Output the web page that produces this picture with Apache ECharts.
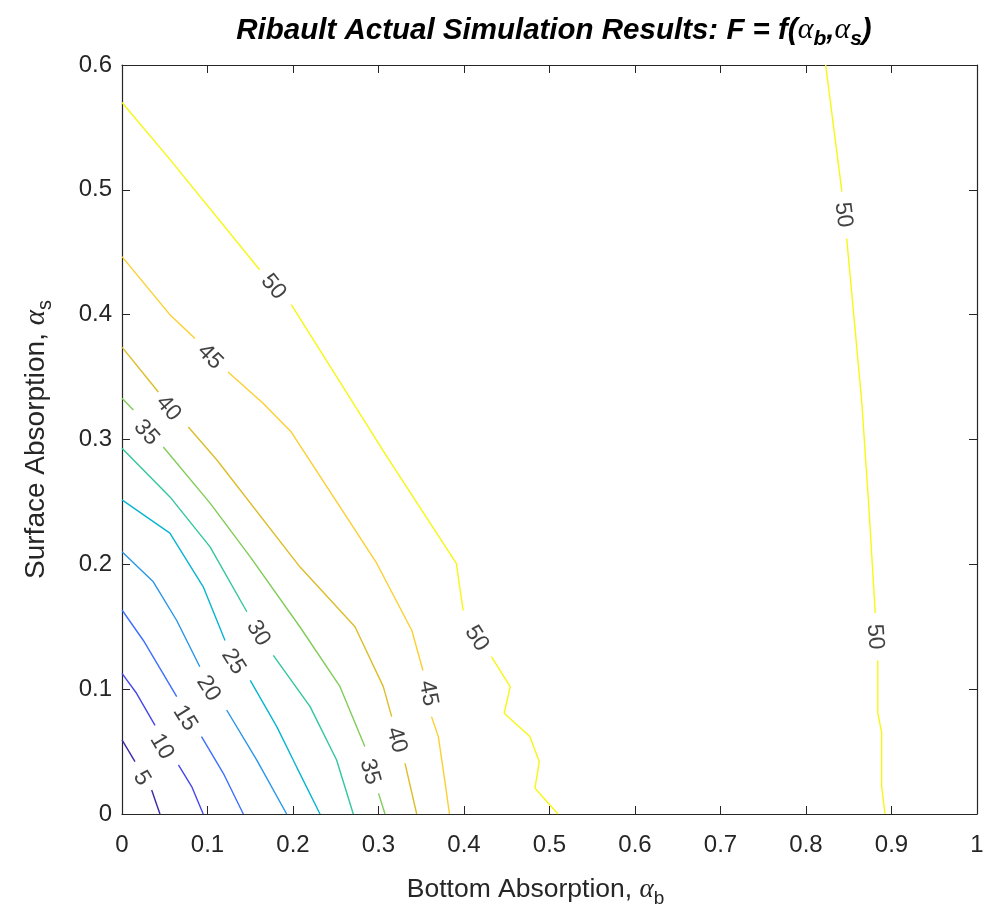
<!DOCTYPE html>
<html>
<head>
<meta charset="utf-8">
<script src="https://cdn.jsdelivr.net/npm/echarts@6/dist/echarts.min.js"></script>
<style>
html,body{margin:0;padding:0;background:#fff;}
#main{width:992px;height:917px;}
</style>
</head>
<body>
<div id="main"></div>
<script>
// ---- data (null marks a gap where a contour label sits) ----
const levels = [5, 10, 15, 20, 25, 30, 35, 40, 45, 50, 50];
const level5 = [[0,0.0593],[0.0152,0.042],null,[0.0347,0.0192],[0.0444,0]];
const level10 = [[0,0.1127],[0.017,0.0967],[0.0386,0.071],null,[0.066,0.0393],[0.0815,0.022],[0.095,0]];
const level15 = [[0,0.1634],[0.025,0.139],[0.064,0.094],null,[0.093,0.062],[0.1185,0.0326],[0.1419,0]];
const level20 = [[0,0.21],[0.0366,0.186],[0.064,0.155],[0.091,0.118],null,[0.1224,0.0833],[0.1575,0.0433],[0.1926,0]];
const level25 = [[0,0.2516],[0.056,0.225],[0.095,0.182],[0.1205,0.139],null,[0.15,0.107],[0.181,0.07],[0.204,0.038],[0.2316,0]];
const level30 = [[0,0.2929],[0.0561,0.254],[0.103,0.214],[0.146,0.162],null,[0.177,0.127],[0.22,0.086],[0.251,0.0433],[0.2705,0]];
const level35 = [[0,0.333],[0.0133,0.3236],null,[0.0483,0.294],[0.103,0.249],[0.15,0.206],[0.208,0.150],[0.255,0.102],[0.284,0.054],null,[0.300,0.0165],[0.3076,0]];
const level40 = [[0,0.374],[0.0425,0.338],null,[0.0776,0.310],[0.111,0.2836],[0.208,0.198],[0.2725,0.150],[0.3056,0.102],[0.3154,0.078],null,[0.331,0.0405],[0.3447,0]];
const level45 = [[0,0.4465],[0.056,0.40],[0.0854,0.381],null,[0.124,0.354],[0.165,0.329],[0.198,0.306],[0.298,0.2007],[0.339,0.147],[0.352,0.115],null,[0.362,0.078],[0.370,0.062],[0.378,0.0245],[0.383,0]];
const level50a = [[0,0.570],[0.0565,0.524],[0.161,0.436],null,[0.198,0.408],[0.31,0.286],[0.391,0.2007],[0.399,0.163],null,[0.432,0.126],[0.454,0.102],[0.447,0.0807],[0.477,0.062],[0.488,0.042],[0.483,0.0206],[0.510,0]];
const level50b = [[0.823,0.6],[0.842,0.4985],null,[0.8476,0.461],[0.865,0.332],[0.873,0.2515],[0.881,0.161],null,[0.884,0.123],[0.884,0.081],[0.8885,0.065],[0.8885,0.022],[0.8924,0]];
const contourLines = [level5, level10, level15, level20, level25, level30, level35, level40, level45, level50a, level50b];

// contour label anchors [x, y, level] and their text angles
const labelPoints = [
  [0.023,0.0286,5],[0.0464,0.054,10],[0.0737,0.0767,15],[0.101,0.1006,20],[0.1302,0.122,25],
  [0.1594,0.1448,30],[0.0285,0.3055,35],[0.29,0.0339,35],[0.0542,0.325,40],[0.3213,0.0593,40],
  [0.1029,0.3663,45],[0.3583,0.0967,45],[0.177,0.4223,50],[0.4149,0.1406,50],[0.8437,0.48,50],[0.8807,0.142,50]
];
const labelAngles = [-59,-60,-58,-58,-58,-59,-48,-74,-49,-74,-46,-79,-51,-58,-83,-86];

const xTickLabels = ['0','0.1','0.2','0.3','0.4','0.5','0.6','0.7','0.8','0.9','1'];
const yTickLabels = ['0','0.1','0.2','0.3','0.4','0.5','0.6'];

// ---- styles ----
const colors = ['#3e26a8','#4747eb','#3e6fff','#2796eb','#08b5d0','#31c69f','#80cc59','#dcbd29','#fccf30','#f7f714','#f7f714'];
const axisColor = '#262626';
const baseFont = 'Liberation Sans, Arial, Helvetica, sans-serif';
const serifFont = 'Liberation Serif, Times New Roman, serif';

function splitSegments(arr){
  const segs=[]; let cur=[];
  arr.forEach(p=>{ if(p===null){ if(cur.length) segs.push(cur); cur=[]; } else cur.push(p); });
  if(cur.length) segs.push(cur);
  return segs;
}

const series = [];
contourLines.forEach((line, i) => {
  splitSegments(line).forEach(seg => {
    series.push({
      type:'line', data:seg, showSymbol:false, symbol:'none', silent:true,
      lineStyle:{color:colors[i], width:1.4}, z:2, animation:false
    });
  });
});
series.push({
  type:'scatter', symbolSize:0, silent:true, animation:false, z:3,
  data: labelPoints.map((p,i)=>({
    value:[p[0],p[1]],
    label:{show:true, position:'inside', formatter:String(p[2]), rotate:labelAngles[i],
      fontSize:23, color:'#111', fontFamily:baseFont}
  }))
});

const tickStyle = {inside:true, length:8, lineStyle:{color:axisColor, width:1}};
const lineStyle = {show:true, onZero:false, lineStyle:{color:axisColor, width:1.2}};

const option = {
  backgroundColor:'#ffffff',
  animation:false,
  title:{
    text:'Ribault Actual Simulation Results: F = f({a|α}{sub|b},{a|α}{sub|s})',
    left:549, top:6, textAlign:'center',
    textStyle:{
      fontSize:29.5, fontWeight:'bold', fontStyle:'italic', color:'#000', fontFamily:baseFont,
      rich:{
        a:{fontSize:30, fontStyle:'italic', fontWeight:'normal', fontFamily:serifFont, color:'#000'},
        sub:{fontSize:21, fontWeight:'bold', fontStyle:'italic', fontFamily:baseFont, color:'#000', padding:[18,0,0,0]}
      }
    }
  },
  grid:{left:122, right:15, top:65, bottom:103, show:false},
  xAxis:[
    {type:'value', min:0, max:1, interval:0.1, position:'bottom',
     axisLine:lineStyle, axisTick:tickStyle, splitLine:{show:false},
     axisLabel:{color:axisColor, fontSize:24, fontFamily:baseFont, margin:19,
       formatter:(v)=>xTickLabels[Math.round(v*10)]},
     name:'Bottom Absorption, {a|α}{sub|b}', nameLocation:'middle', nameGap:58,
     nameTextStyle:{color:axisColor, fontSize:26.5, fontFamily:baseFont, padding:[0,28,0,0],
       rich:{a:{fontSize:27, fontStyle:'italic', fontFamily:serifFont, color:axisColor},
             sub:{fontSize:19, fontFamily:baseFont, color:axisColor, padding:[17,0,0,0]}}}
    },
    {type:'value', min:0, max:1, interval:0.1, position:'top',
     axisLine:lineStyle, axisTick:tickStyle, splitLine:{show:false}, axisLabel:{show:false}}
  ],
  yAxis:[
    {type:'value', min:0, max:0.6, interval:0.1, position:'left',
     axisLine:lineStyle, axisTick:tickStyle, splitLine:{show:false},
     axisLabel:{color:axisColor, fontSize:24, fontFamily:baseFont, margin:10,
       formatter:(v)=>yTickLabels[Math.round(v*10)]},
     name:'Surface Absorption, {a|α}{sub|s}', nameLocation:'middle', nameGap:67, nameRotate:90,
     nameTextStyle:{color:axisColor, fontSize:28, fontFamily:baseFont,
       rich:{a:{fontSize:29, fontStyle:'italic', fontFamily:serifFont, color:axisColor},
             sub:{fontSize:20, fontFamily:baseFont, color:axisColor, padding:[17,0,0,0]}}}
    },
    {type:'value', min:0, max:0.6, interval:0.1, position:'right',
     axisLine:lineStyle, axisTick:tickStyle, splitLine:{show:false}, axisLabel:{show:false}}
  ],
  series: series
};

const chart = echarts.init(document.getElementById('main'), null, {renderer:'canvas'});
chart.setOption(option);
</script>
</body>
</html>
